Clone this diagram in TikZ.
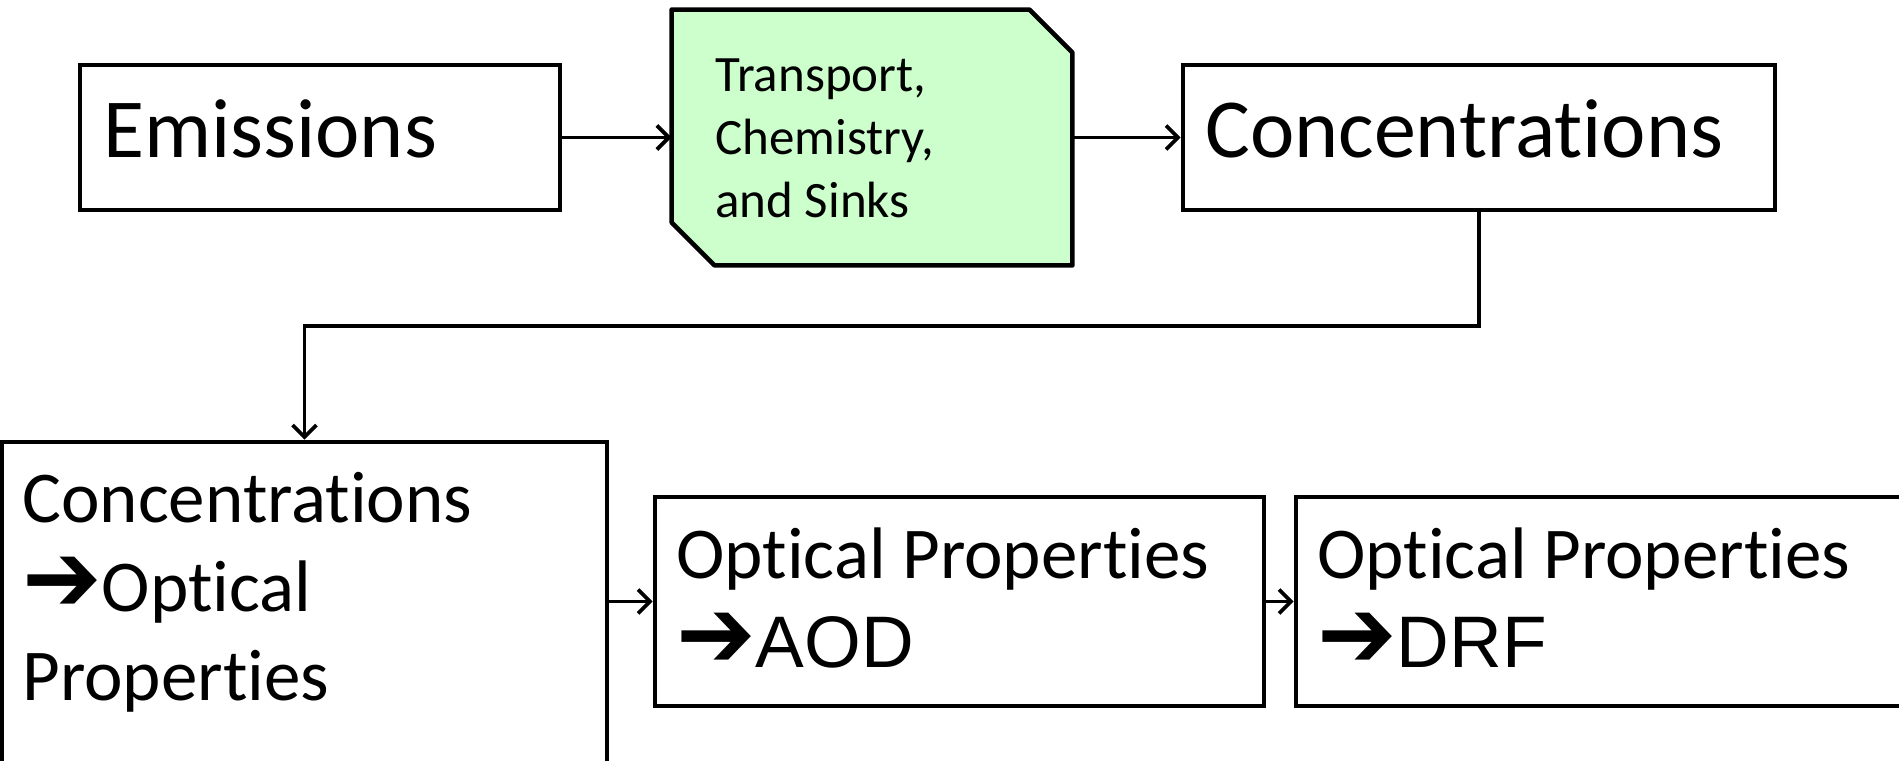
\documentclass[tikz,border=0pt]{standalone}
\usepackage{fontspec}
\setmainfont{Carlito}[Ligatures=NoCommon]
\newfontfamily\symfont{DejaVu Sans}
\newfontfamily\arialfont{Liberation Sans}
\usetikzlibrary{arrows.meta}
\newcommand{\fontbig}{\fontsize{42}{50}\selectfont}
\newcommand{\fontmid}{\fontsize{36.5}{44.5}\selectfont}
\newcommand{\fontsml}{\fontsize{25.5}{31.5}\selectfont}
\newcommand{\thickarrow}{{\symfont\scalebox{1.3}[1.35]{➔}}}
\definecolor{chemgreen}{HTML}{CCFFCC}
\tikzset{
  box/.style={draw, line width=2.3pt, inner sep=0pt},
  link/.style={draw, line width=1.9pt, -{Straight Barb[length=6pt,width=12pt,line width=1.9pt]}},
  txt/.style={anchor=base west, inner sep=0pt, align=left}
}
\begin{document}
\begin{tikzpicture}[x=0.5pt,y=-0.5pt]
\useasboundingbox (0,0) rectangle (1899,760);

% boxes
\node[box, minimum width=240pt, minimum height=72.5pt] (emis) at (320,137.5) {};
\node[inner sep=0pt, minimum width=200pt, minimum height=127.5pt] (chem) at (872,137.5) {};
\path[box, fill=chemgreen, line join=round] (chem.north west) -- ([xshift=-21.5pt]chem.north east)
  -- ([yshift=-21.5pt]chem.north east) -- (chem.south east) -- ([xshift=21.5pt]chem.south west)
  -- ([yshift=21.5pt]chem.south west) -- cycle;
\node[box, minimum width=296pt, minimum height=72.5pt] (conc) at (1479,137.5) {};
\node[box, minimum width=302.5pt, minimum height=160.5pt] (optin) at (304.5,602.5) {};
\node[box, minimum width=304.5pt, minimum height=104.5pt] (aod) at (959.5,601.5) {};
\node[box, minimum width=304.5pt, minimum height=104.5pt] (drf) at (1600.5,601.5) {};

% texts (base = last line)
\node[txt, font=\fontbig] (emistxt) at (103,157) {Emissions};
\node[txt, font=\fontsml] (chemtxt) at (715,217) {Transport,\\Chemistry,\\and Sinks};
\node[txt, font=\fontbig] (conctxt) at (1205,157) {Concentrations};
\node[txt, font=\fontmid] (optintxt) at (22,700) {Concentrations\\\thickarrow Optical\\Properties};
\node[txt, font=\fontmid] (aodtxt) at (676,667) {Optical Properties\\\thickarrow{\arialfont AOD}};
\node[txt, font=\fontmid] (drftxt) at (1317,667) {Optical Properties\\\thickarrow{\arialfont DRF}};

% connectors
\path[link] (emis) -- (chem);
\path[link] (chem) -- (conc);
\path[link] (conc.south) -- (conc.south |- 0,326) -| (optin.north);
\path[link] (optin.east |- aod.west) -- (aod.west);
\path[link] (aod) -- (drf);
\end{tikzpicture}
\end{document}
